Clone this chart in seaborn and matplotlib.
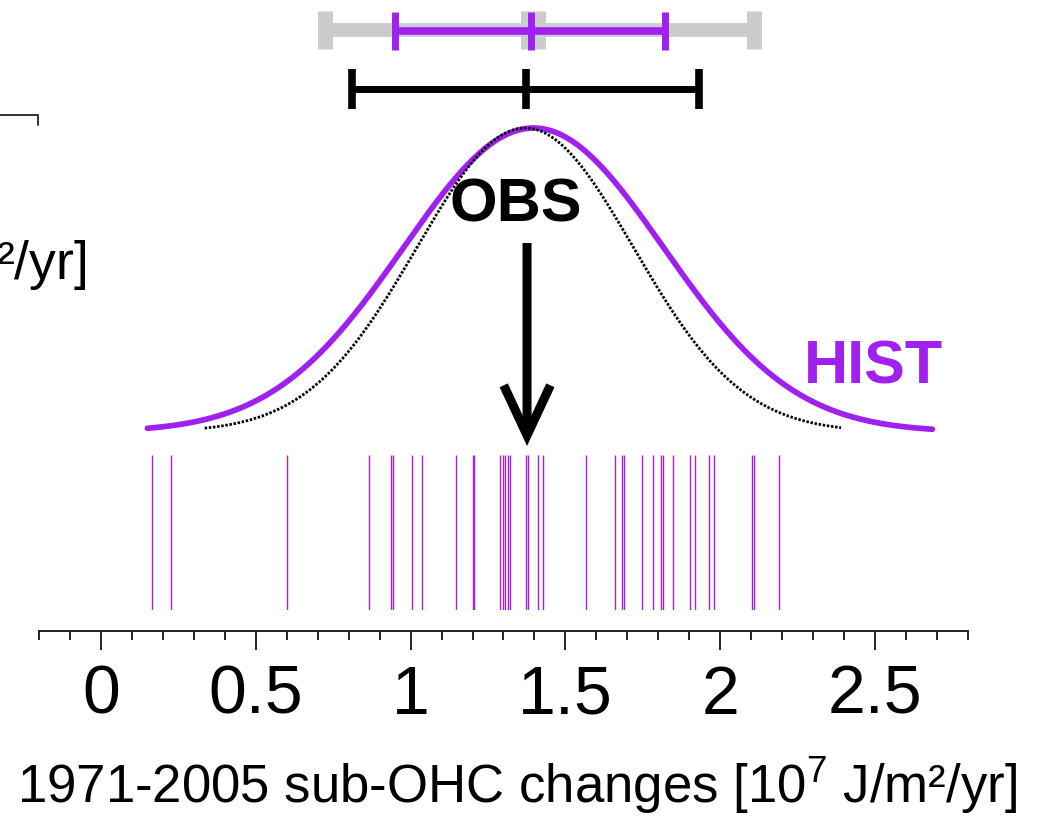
import numpy as np
import matplotlib
matplotlib.use("Agg")
import matplotlib.pyplot as plt
import seaborn as sns
from matplotlib.ticker import FixedLocator
from matplotlib.lines import Line2D

# ---------------- data ----------------
hist_members = [0.164, 0.225, 0.600, 0.865, 0.936, 0.942, 1.005, 1.036, 1.146,
                1.200, 1.206, 1.289, 1.297, 1.305, 1.316, 1.322, 1.372, 1.378,
                1.410, 1.427, 1.567, 1.660, 1.684, 1.690, 1.746, 1.784, 1.810,
                1.816, 1.847, 1.902, 1.918, 1.964, 1.979, 2.104, 2.110, 2.191]

# error bars: low, centre, high
hist_range_bar = [0.722, 1.395, 2.109]     # grey
hist_mean_bar = [0.951, 1.388, 1.823]      # purple
obs_bar = [0.811, 1.373, 1.932]            # black

obs_value = 1.376

# fitted normal distributions: mean, sd, drawn x-range
hist_dist = {"mean": 1.397, "sd": 0.42, "xmin": 0.15, "xmax": 2.685}
obs_dist = {"mean": 1.370, "sd": 0.35, "xmin": 0.335, "xmax": 2.39}

major_ticks = [0, 0.5, 1, 1.5, 2, 2.5]
major_labels = ["0", "0.5", "1", "1.5", "2", "2.5"]
xlabel = "1971-2005 sub-OHC changes [10$^{\\mathrm{7}}$ J/m\u00b2/yr]"
side_label = "[10$^{\\mathrm{7}}$ J/m\u00b2/yr]"

# ---------------- style ----------------
sns.set_style("white")
plt.rcParams["font.family"] = ["Liberation Sans", "DejaVu Sans"]
plt.rcParams["mathtext.fontset"] = "custom"
plt.rcParams["mathtext.rm"] = "Liberation Sans"
plt.rcParams["mathtext.it"] = "Liberation Sans:italic"
plt.rcParams["mathtext.bf"] = "Liberation Sans:bold"

PURPLE = "#A020F0"
GREY = "#CCCCCC"

W, H = 1038, 816
fig = plt.figure(figsize=(W / 100, H / 100), dpi=100)
ax_bottom_px = 610
ax = fig.add_axes([39 / W, (H - ax_bottom_px) / H, 929 / W, ax_bottom_px / H])
ax.set_xlim(-0.2, 2.8)
ax.set_ylim(0, 1)


def yfrac(px):
    return (ax_bottom_px - px) / ax_bottom_px


# ---------------- curves ----------------
base = yfrac(432)
peak = yfrac(128)


def norm_curve(d):
    xs = np.linspace(d["xmin"], d["xmax"], 400)
    dens = np.exp(-0.5 * ((xs - d["mean"]) / d["sd"]) ** 2)
    return xs, base + (peak - base) * dens / dens.max()


hx, hy = norm_curve(hist_dist)
sns.lineplot(x=hx, y=hy, ax=ax, color=PURPLE, lw=4.1, estimator=None,
             sort=False, zorder=3)
ox, oy = norm_curve(obs_dist)
sns.lineplot(x=ox, y=oy, ax=ax, color="black", lw=2.0, estimator=None,
             sort=False, zorder=4, dashes=False)
ax.lines[-1].set_dashes([0.9, 0.6])

# ---------------- rug ----------------
sns.rugplot(x=hist_members, ax=ax, height=yfrac(455), color=PURPLE, lw=1.8,
            expand_margins=False)

# ---------------- error bars ----------------
def bar(vals, y, color, elw, capw, caps, midw, z):
    lo, mid, hi = vals
    ax.errorbar([mid], [y], xerr=[[mid - lo], [hi - mid]], fmt="none",
                ecolor=color, elinewidth=elw, capsize=caps, capthick=capw,
                zorder=z)
    ax.plot([mid], [y], marker="|", ms=2 * caps, mew=midw, color=color,
            zorder=z, ls="none")


bar(hist_range_bar, yfrac(30), GREY, 10, 10.8, 13.7, 18, 5)
bar(hist_mean_bar, yfrac(30.5), PURPLE, 5.5, 5.0, 13.7, 5.0, 6)
bar(obs_bar, yfrac(88.5), "black", 5.0, 5.5, 14.4, 5.5, 6)

# ---------------- arrow and labels ----------------
ax.annotate("", xy=(obs_value, yfrac(446)), xytext=(obs_value, yfrac(243)),
            arrowprops=dict(arrowstyle="->,head_length=0.9,head_width=0.42",
                            lw=6.5, color="black", mutation_scale=40,
                            shrinkA=0, shrinkB=0, joinstyle="miter",
                            capstyle="butt"),
            zorder=7)
ax.text(1.340, yfrac(222), "OBS", ha="center", va="baseline", fontsize=44,
        fontweight="bold", color="black", zorder=8)
ax.text(2.4935, yfrac(384), "HIST", ha="center", va="baseline", fontsize=44,
        fontweight="bold", color=PURPLE, zorder=8)

# ---------------- axes ----------------
for s in ["left", "right", "top"]:
    ax.spines[s].set_visible(False)
ax.spines["bottom"].set_position(("outward", 21 * 0.72))
ax.spines["bottom"].set_linewidth(1.4)
ax.spines["bottom"].set_color("#222222")
ax.set_xticks(major_ticks)
ax.set_xticklabels(major_labels)
ax.xaxis.set_minor_locator(FixedLocator(np.round(np.arange(-0.2, 2.81, 0.1), 1)))
ax.tick_params(axis="x", which="major", direction="out", length=13.7,
               width=1.4, pad=10, labelsize=49, color="#222222",
               labelcolor="black", bottom=True)
ax.tick_params(axis="x", which="minor", direction="out", length=6.5,
               width=1.4, color="#222222", bottom=True)
ax.tick_params(axis="y", left=False, labelleft=False)
ax.set_yticks([])

fig.text(517 / W, 1 - 803 / H, xlabel, ha="center", va="baseline",
         fontsize=38, color="black")
fig.text(86 / W, 1 - 280 / H, side_label, ha="right", va="baseline",
         fontsize=38.5, color="black")
fig.add_artist(Line2D([0, 38 / W, 38 / W], [1 - 115 / H, 1 - 115 / H, 1 - 125 / H],
                      transform=fig.transFigure, color="#333333", lw=1.4))

fig.savefig("out.png", dpi=100)
